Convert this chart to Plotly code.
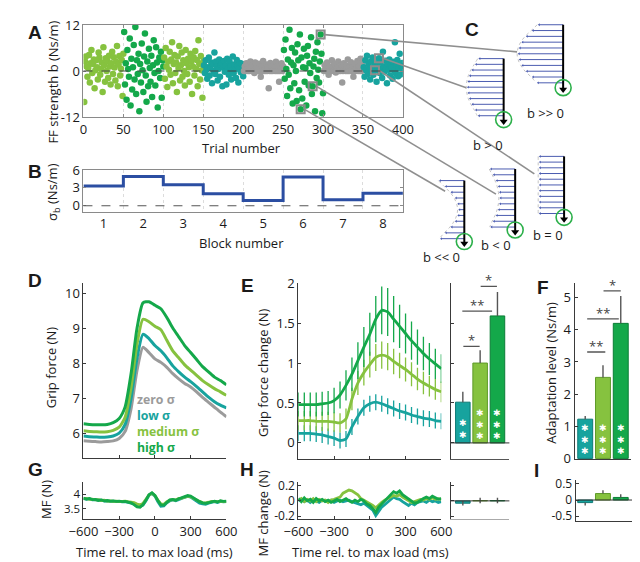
import plotly.graph_objects as go

# ---------------- data ----------------
b_block1 = [-8.1, 2.5, 3.8, 1.2, -1.5, 0.8, 4.2, -3.0, 2.0, 5.5, -0.5, 1.8, 3.0, -4.5, 0.2, 2.8, 1.0, -2.2, 4.8, 3.5,
            -1.0, 0.5, 2.2, -5.5, 6.2, 1.5, -2.8, 3.3, 0.0, 2.6, -1.8, 4.0, 1.2, -3.5, 2.0, 5.0, -0.8, 3.6, 0.9, -2.5,
            2.4, 6.5, -4.0, 1.7, 3.9, -1.2, 0.6, 2.9, -6.5, 4.5]
b_block2 = [10.2, -3.5, 2.0, -7.5, 5.5, 0.5, -1.5, 8.5, -9.0, 3.2, -4.8, 1.0, 6.8, -2.2, 11.5, -6.0, 2.8, -0.8, 4.5, -10.5,
            1.8, -3.0, 7.2, 0.2, -5.5, 3.8, 9.8, -1.2, -8.0, 2.5, -4.0, 5.8, 0.8, -2.8, 4.0, -6.8, 1.5, 8.0, -0.5, -3.8,
            6.2, 2.2, -9.5, 0.0, 3.5, -1.8, 5.0, -7.0, 2.8, 1.2]
b_block3 = [3.5, -2.0, 6.0, 1.2, -4.2, 2.5, 0.3, 5.0, -1.0, 3.0, 7.5, -3.2, 1.8, 4.2, -0.5, 2.2, -5.5, 3.8, 0.8, 6.5,
            -2.5, 1.5, 4.8, -1.5, 2.8, 0.0, -3.8, 5.5, 2.0, -0.8, 3.2, 1.0, -2.8, 4.5, 2.5, -6.0, 1.2, 3.6, -1.2, 5.2,
            0.5, 2.9, -4.0, 8.0, 1.8, -2.2, 3.9, 0.2, -7.0, 2.4]
b_block4 = [1.5, -0.5, 2.8, 0.3, -2.0, 1.0, 3.5, -1.2, 0.8, 2.2, -3.2, 1.8, 0.0, 4.8, -0.8, 2.5, 1.2, -2.5, 0.5, 3.0,
            -1.5, 1.6, 2.0, -4.0, 0.9, 2.6, -0.2, 1.4, -3.5, 3.2, 0.6, -1.0, 2.4, 1.1, -2.2, 0.2, 3.8, -0.6, 1.7, 0.4,
            -1.8, 2.9, 1.3, -3.0, 0.7, 2.1, -0.3, 1.9, 0.1, -1.4]
b_block5 = [0, 1.2, 0, 2.0, 0.5, 0, 1.8, 0, 2.5, 0.8, 0, 1.5, 0, -0.5, 2.2, 0, 1.0, 0, 0.6, 1.9,
            0, -1.5, 0, 1.3, 2.6, 0, 0.4, 0, 1.7, 0, 0.9, -4.5, 0, 2.1, 0, 1.1, 0, 1.6, 0.3, 0,
            2.4, 0, 1.4, 0, -2.8, 0, 0.7, 2.0, 0, 1.2]
b_block6 = [5.5, -2.0, 8.2, 0.5, -6.5, 3.0, -1.0, 10.8, -4.5, 2.2, 6.0, -8.5, 1.5, -3.2, 4.8, 0.0, -7.8, 7.0, 2.8, -5.0,
            9.5, -10.0, 3.5, -7.2, 1.0, 5.8, -2.8, 0.8, -9.0, 4.0, 6.5, -3.8, 2.0, -0.5, 8.8, -6.0, -4.0, 1.2, 3.2, -10.5,
            5.0, -1.8, 7.5, 0.3, -3.0, 2.5, 9.5, 4.5, -11.0, -5.8]
b_block7 = [0, 1.5, 0, 0.8, 2.2, 0, -1.0, 0, 1.2, 0, 2.8, 0.5, 0, 1.8, 0, -0.4, 0, 1.0, 2.5, 0,
            0.3, 0, 1.6, -3.0, 0, 2.0, 0.7, 0, 1.4, 0, 3.0, 0, 0.9, 0, 2.3, 0, 1.1, -1.5, 0, 1.9,
            0, 0.6, 2.6, 0, 1.3, 0, 3.2, 0, 2.1, 0.4]
b_block8 = [1.0, -1.5, 2.8, 0.2, 4.0, -0.8, 1.8, 0.5, -2.2, 2.5, 0.0, 3.5, -1.0, 1.2, 0.2, 2.0, -2.8, 1.5, 0.8, 3.3,
            -0.5, 2.2, 0.4, -1.8, 5.0, 1.1, -0.2, 2.7, 0.6, -3.2, 1.9, 0.3, 3.0, -1.2, 1.4, 0.9, -2.0, 2.4, 0.1, 7.5,
            -0.6, 1.6, 2.9, -1.4, 0.7, 4.5, -0.9, 1.3, 2.1, 0.5]
block_condition = ['medium', 'high', 'medium', 'low', 'zero', 'high', 'zero', 'low']
block_sigma = [3.3, 4.9, 3.5, 2.0, 0.9, 4.8, 1.0, 2.1]
block_labels = ['1', '2', '3', '4', '5', '6', '7', '8']
trial_ticks = [0, 50, 100, 150, 200, 250, 300, 350, 400]

highlight_trials = [297, 370, 365, 287, 272]
glyph_labels = ['b >> 0', 'b > 0', 'b = 0', 'b < 0', 'b << 0']
glyph_strength = [21, 12, 0, -10, -20]
bell = [0, 0.3, 0.6, 0.82, 0.95, 1.0, 0.95, 0.82, 0.6, 0.3, 0.05]

t_grip = [-600, -550, -500, -450, -400, -350, -300, -250, -200, -150, -100, -50, 0,
          50, 100, 150, 200, 250, 300, 350, 400, 450, 500, 550, 600]
grip_zero = [5.78, 5.77, 5.76, 5.75, 5.76, 5.78, 5.85, 6.05, 6.7, 7.8, 8.45, 8.3, 8.12,
             8.02, 7.88, 7.7, 7.55, 7.42, 7.32, 7.18, 7.02, 6.88, 6.74, 6.6, 6.47]
grip_low = [5.92, 5.9, 5.89, 5.88, 5.89, 5.92, 6.0, 6.25, 7.0, 8.15, 8.82, 8.7, 8.5,
            8.35, 8.15, 7.92, 7.75, 7.6, 7.47, 7.33, 7.18, 7.03, 6.9, 6.8, 6.72]
grip_med = [6.07, 6.05, 6.04, 6.03, 6.04, 6.08, 6.17, 6.45, 7.3, 8.55, 9.25, 9.18, 9.05,
            8.95, 8.65, 8.35, 8.15, 7.95, 7.8, 7.65, 7.5, 7.38, 7.27, 7.18, 7.08]
grip_high = [6.27, 6.25, 6.24, 6.24, 6.25, 6.3, 6.42, 6.75, 7.7, 9.0, 9.72, 9.75, 9.65,
             9.55, 9.3, 9.0, 8.75, 8.5, 8.3, 8.1, 7.9, 7.75, 7.6, 7.5, 7.38]

gfc_high = [0.48, 0.48, 0.48, 0.48, 0.49, 0.5, 0.53, 0.6, 0.72, 0.86, 1.03, 1.2, 1.36,
            1.55, 1.66, 1.64, 1.55, 1.46, 1.37, 1.28, 1.2, 1.12, 1.05, 0.99, 0.93]
gfc_high_err = [0.15, 0.15, 0.15, 0.15, 0.15, 0.15, 0.16, 0.17, 0.19, 0.21, 0.23, 0.25, 0.27,
                0.29, 0.30, 0.30, 0.29, 0.27, 0.25, 0.24, 0.22, 0.21, 0.2, 0.19, 0.18]
gfc_med = [0.28, 0.28, 0.28, 0.27, 0.27, 0.27, 0.26, 0.25, 0.3, 0.55, 0.75, 0.88, 0.98,
           1.07, 1.1, 1.08, 1.02, 0.97, 0.92, 0.86, 0.8, 0.75, 0.71, 0.67, 0.64]
gfc_med_err = [0.12, 0.12, 0.12, 0.12, 0.12, 0.12, 0.12, 0.12, 0.13, 0.14, 0.15, 0.16, 0.16,
               0.17, 0.17, 0.17, 0.16, 0.16, 0.15, 0.15, 0.14, 0.14, 0.13, 0.13, 0.13]
gfc_low = [0.12, 0.12, 0.12, 0.11, 0.1, 0.08, 0.06, 0.03, 0.05, 0.2, 0.33, 0.44, 0.49,
           0.51, 0.49, 0.46, 0.43, 0.4, 0.38, 0.35, 0.33, 0.31, 0.3, 0.28, 0.27]
gfc_low_err = [0.1, 0.1, 0.1, 0.1, 0.1, 0.1, 0.1, 0.1, 0.1, 0.1, 0.1, 0.1, 0.1,
               0.1, 0.1, 0.1, 0.1, 0.1, 0.1, 0.1, 0.1, 0.1, 0.1, 0.1, 0.1]

bar_conditions = [1, 2, 3]
gfc_bar = [0.51, 1.00, 1.59]
gfc_bar_err = [0.13, 0.16, 0.30]
gfc_bar_stars = [2, 3, 3]
adapt = [1.22, 2.52, 4.20]
adapt_err = [0.10, 0.38, 0.85]
adapt_stars = [3, 3, 3]

t_mf = [-600, -575, -550, -525, -500, -475, -450, -425, -400, -375, -350, -325, -300, -275, -250, -225, -200,
        -175, -150, -125, -100, -75, -50, -25, 0, 25, 50, 75, 100, 125, 150, 175, 200, 225, 250, 275, 300,
        325, 350, 375, 400, 425, 450, 475, 500, 525, 550, 575, 600]
mf_high = [3.86, 3.83, 3.85, 3.81, 3.82, 3.79, 3.80, 3.77, 3.78, 3.76, 3.77, 3.75, 3.76, 3.74, 3.75, 3.73, 3.70,
           3.64, 3.56, 3.55, 3.64, 3.80, 3.98, 4.05, 3.96, 3.78, 3.63, 3.62, 3.72, 3.80, 3.82, 3.79, 3.84, 3.87,
           3.92, 3.95, 3.93, 3.86, 3.80, 3.74, 3.70, 3.68, 3.71, 3.74, 3.76, 3.73, 3.77, 3.75, 3.76]
mf_med = [3.84, 3.85, 3.82, 3.83, 3.80, 3.81, 3.78, 3.79, 3.76, 3.77, 3.75, 3.76, 3.74, 3.75, 3.76, 3.74, 3.73,
          3.71, 3.66, 3.63, 3.68, 3.82, 3.97, 4.03, 3.95, 3.79, 3.66, 3.65, 3.74, 3.79, 3.81, 3.80, 3.85, 3.86,
          3.90, 3.93, 3.91, 3.85, 3.79, 3.75, 3.71, 3.70, 3.72, 3.75, 3.75, 3.74, 3.76, 3.74, 3.75]
mf_low = [3.85, 3.82, 3.84, 3.80, 3.81, 3.78, 3.79, 3.76, 3.77, 3.75, 3.76, 3.74, 3.75, 3.73, 3.74, 3.72, 3.69,
          3.65, 3.58, 3.57, 3.62, 3.77, 3.96, 4.02, 3.93, 3.74, 3.58, 3.59, 3.70, 3.77, 3.80, 3.77, 3.82, 3.85,
          3.89, 3.92, 3.90, 3.82, 3.75, 3.69, 3.66, 3.65, 3.69, 3.72, 3.74, 3.71, 3.75, 3.73, 3.74]

dmf_high = [0.03, -0.01, 0.04, 0.00, 0.02, -0.02, 0.03, 0.00, 0.02, -0.01, 0.01, -0.02, 0.00, 0.02, -0.01, 0.01,
            0.03, 0.00, -0.02, 0.01, -0.01, 0.02, 0.00, -0.04, -0.06, -0.10, -0.15, -0.08, -0.04, 0.00, 0.04,
            0.08, 0.12, 0.10, 0.13, 0.08, 0.05, 0.02, -0.01, -0.03, -0.02, 0.01, 0.03, 0.05, 0.03, 0.06, 0.04,
            0.02, 0.03]
dmf_med = [0.01, 0.03, -0.01, 0.02, 0.00, 0.03, -0.01, 0.02, 0.00, 0.01, -0.02, 0.01, 0.02, 0.03, 0.05, 0.10,
           0.12, 0.14, 0.13, 0.11, 0.08, 0.03, 0.01, -0.02, -0.03, -0.06, -0.09, -0.05, -0.02, 0.01, 0.03,
           0.05, 0.07, 0.06, 0.08, 0.05, 0.03, 0.00, -0.02, -0.01, 0.00, 0.02, 0.01, 0.03, 0.02, 0.04, 0.02,
           0.03, 0.02]
dmf_low = [0.00, 0.02, -0.01, 0.01, -0.02, 0.01, 0.00, -0.02, 0.01, 0.00, -0.01, 0.01, -0.02, 0.00, 0.01, -0.01,
           0.00, 0.01, -0.01, -0.02, -0.04, -0.05, -0.03, -0.06, -0.08, -0.12, -0.19, -0.13, -0.08, -0.05,
           -0.02, 0.02, 0.05, 0.03, 0.02, -0.01, -0.04, -0.06, -0.03, -0.05, -0.02, -0.01, 0.00, -0.02, 0.01,
           -0.01, 0.00, -0.02, -0.01]
dmf_bar = [-0.03, 0.005, 0.005]
dmf_bar_err = [0.03, 0.035, 0.035]
mfadapt = [-0.08, 0.20, 0.08]
mfadapt_err = [0.09, 0.10, 0.10]

time_ticks = [-600, -300, 0, 300, 600]
time_ticktext = ['\u2212600', '\u2212300', '0', '300', '600']
legend_labels = ['zero \u03c3', 'low \u03c3', 'medium \u03c3', 'high \u03c3']

# ---------------- style ----------------
W, H = 640, 562
FONT = 'Open Sans'
COL = {'zero': '#9b9b9b', 'low': '#17a39e', 'medium': '#86c23f', 'high': '#14a84a'}
EDGE = {'low': '#0d7a76', 'medium': '#5e9a28', 'high': '#0b7d36'}
BLUE = '#2b4ea2'
CONDS = ['low', 'medium', 'high']


def dx(x0, x1):
    return [x0 / W, x1 / W]


def dy(y0, y1):
    return [1 - y1 / H, 1 - y0 / H]


def axis(domain, rng, fs=13, **kw):
    d = dict(domain=domain, range=rng, showline=True, linecolor='#3a3a3a', linewidth=1, ticks='inside',
             ticklen=3, tickcolor='#3a3a3a', showgrid=False, zeroline=False, fixedrange=True,
             tickfont=dict(size=fs, color='#1a1a1a', family=FONT))
    d.update(kw)
    return d


fig = go.Figure()
layout = dict(width=W, height=H, margin=dict(l=0, r=0, t=0, b=0), paper_bgcolor='white',
              plot_bgcolor='rgba(0,0,0,0)', showlegend=False, font=dict(family=FONT, size=13, color='#1a1a1a'))

GRAYBOX = '#8a8a8a'
GRID = '#dcdcdc'
layout['xaxis'] = axis(dx(63, 396), [0, 400], anchor='y', tickvals=trial_ticks, mirror='ticks', linecolor=GRAYBOX,
                       tickcolor=GRAYBOX, showgrid=True, gridcolor=GRID, griddash='dot', gridwidth=1)
layout['yaxis'] = axis(dy(8.3, 103.3), [-12, 12], anchor='x', tickvals=[-12, 0, 12], ticktext=['-12', '0', '12'],
                       mirror='ticks', linecolor=GRAYBOX, tickcolor=GRAYBOX)
layout['xaxis2'] = axis(dx(63, 396), [0.5, 8.5], anchor='y2', tickvals=[1, 2, 3, 4, 5, 6, 7, 8],
                        ticktext=block_labels, mirror='ticks', linecolor=GRAYBOX, ticks='',
                        minor=dict(tick0=0.5, dtick=1, showgrid=True, gridcolor=GRID, griddash='dot'))
layout['yaxis2'] = axis(dy(158, 201), [-0.97, 6], anchor='x2', tickvals=[0, 3, 6], mirror='ticks',
                        linecolor=GRAYBOX, tickcolor=GRAYBOX)
layout['xaxis3'] = axis(dx(63, 212), [-600, 600], anchor='y3', tickvals=time_ticks, showticklabels=False)
layout['yaxis3'] = axis(dy(275, 456), [5.28, 10.28], anchor='x3', tickvals=[6, 7, 8, 9, 10])
layout['xaxis4'] = axis(dx(287, 436), [-600, 600], anchor='y4', tickvals=time_ticks, showticklabels=False)
layout['yaxis4'] = axis(dy(275, 457), [-0.206, 2], anchor='x4', tickvals=[0, 0.5, 1, 1.5, 2],
                        ticktext=['0', '0.5', '1', '1.5', '2'])
layout['xaxis5'] = axis(dx(446, 507), [0.31, 3.69], anchor='y5', ticks='', showticklabels=False, linecolor='#555')
layout['yaxis5'] = axis(dy(275, 457), [-0.206, 2], anchor='x5', tickvals=[0, 0.5, 1, 1.5, 2], showticklabels=False)
layout['xaxis6'] = axis(dx(575, 634), [0.405, 3.59], anchor='y6', ticks='', showticklabels=False)
layout['yaxis6'] = axis(dy(275, 457), [-0.03, 5.45], anchor='x6', tickvals=[0, 1, 2, 3, 4, 5])
layout['xaxis7'] = axis(dx(63, 212), [-600, 600], anchor='y7', tickvals=time_ticks, ticktext=time_ticktext)
layout['yaxis7'] = axis(dy(480, 519), [3.13, 4.43], fs=11.5, anchor='x7', tickvals=[3.5, 4], ticktext=['3.5', '4'])
layout['xaxis8'] = axis(dx(287, 436), [-600, 600], anchor='y8', tickvals=time_ticks, ticktext=time_ticktext)
layout['yaxis8'] = axis(dy(480, 519), [-0.24, 0.25], fs=12, anchor='x8', tickvals=[-0.2, 0, 0.2],
                        ticktext=['-0.2', '0', '0.2'])
layout['xaxis9'] = axis(dx(446, 507), [0.31, 3.69], anchor='y9', ticks='', showticklabels=False, linecolor='#aaaaaa')
layout['yaxis9'] = axis(dy(480, 519), [-0.24, 0.25], anchor='x9', tickvals=[-0.2, 0, 0.2], showticklabels=False)
layout['xaxis10'] = axis(dx(576, 636), [0.46, 3.70], anchor='y10', ticks='', showticklabels=False)
layout['yaxis10'] = axis(dy(478, 521), [-0.66, 0.63], fs=12, anchor='x10', tickvals=[-0.5, 0, 0.5],
                         ticktext=['-0.5', '0', '0.5'])
layout['xaxis11'] = dict(domain=[0, 1], range=[0, W], visible=False, anchor='y11', fixedrange=True)
layout['yaxis11'] = dict(domain=[0, 1], range=[H, 0], visible=False, anchor='x11', fixedrange=True)

# ---------------- A: scatter ----------------
blocks = [b_block1, b_block2, b_block3, b_block4, b_block5, b_block6, b_block7, b_block8]
all_b = []
for i, vals in enumerate(blocks):
    trials = list(range(i * 50 + 1, i * 50 + 1 + len(vals)))
    all_b += vals
    fig.add_trace(go.Scatter(x=trials, y=vals, mode='markers', xaxis='x', yaxis='y',
                             marker=dict(size=6.5, color=COL[block_condition[i]], line=dict(width=0))))
hl_b = [all_b[t - 1] for t in highlight_trials]
fig.add_trace(go.Scatter(x=highlight_trials, y=hl_b, mode='markers', xaxis='x', yaxis='y',
                         marker=dict(symbol='square-open', size=8, color='#8c8c8c', line=dict(width=2))))

# ---------------- B: sigma steps ----------------
bx = [k - 0.5 for k in range(1, len(block_sigma) + 1)] + [len(block_sigma) + 0.5]
by = block_sigma + [block_sigma[-1]]
fig.add_trace(go.Scatter(x=bx, y=by, mode='lines', line=dict(shape='hv', color=BLUE, width=3),
                         xaxis='x2', yaxis='y2'))

# ---------------- D ----------------
for name, vals in [('zero', grip_zero), ('low', grip_low), ('medium', grip_med), ('high', grip_high)]:
    fig.add_trace(go.Scatter(x=t_grip, y=vals, mode='lines', xaxis='x3', yaxis='y3',
                             line=dict(color=COL[name], width=3, shape='spline', smoothing=0.6)))

# ---------------- E ----------------
for name, vals, err in [('low', gfc_low, gfc_low_err), ('medium', gfc_med, gfc_med_err),
                        ('high', gfc_high, gfc_high_err)]:
    fig.add_trace(go.Scatter(x=t_grip, y=vals, mode='lines', xaxis='x4', yaxis='y4',
                             line=dict(color=COL[name], width=2.8, shape='spline', smoothing=0.6),
                             error_y=dict(type='data', array=err, width=0, thickness=1.3, color=COL[name])))


def bars(vals, err, xa, ya, one_sided=True):
    for k, c in enumerate(CONDS):
        v = vals[k]
        if one_sided:
            eu = [err[k] if v >= 0 else 0]
            ed = [err[k] if v < 0 else 0]
        else:
            eu = [err[k]]
            ed = [err[k]]
        fig.add_trace(go.Bar(x=[bar_conditions[k]], y=[v], width=0.84, xaxis=xa, yaxis=ya,
                             marker=dict(color=COL[c], line=dict(color=EDGE[c], width=1)),
                             error_y=dict(type='data', symmetric=False, array=eu, arrayminus=ed, width=0,
                                          thickness=1.4, color='#555555')))


bars(gfc_bar, gfc_bar_err, 'x5', 'y5')
bars(adapt, adapt_err, 'x6', 'y6')
bars(dmf_bar, dmf_bar_err, 'x9', 'y9', one_sided=False)
bars(mfadapt, mfadapt_err, 'x10', 'y10')

# ---------------- G, H ----------------
for name, vals in [('low', mf_low), ('medium', mf_med), ('high', mf_high)]:
    fig.add_trace(go.Scatter(x=t_mf, y=vals, mode='lines', xaxis='x7', yaxis='y7',
                             line=dict(color=COL[name], width=2.8)))
for name, vals in [('low', dmf_low), ('medium', dmf_med), ('high', dmf_high)]:
    fig.add_trace(go.Scatter(x=t_mf, y=vals, mode='lines', xaxis='x8', yaxis='y8',
                             line=dict(color=COL[name], width=2.8)))

# ---------------- C: force-field glyphs (overlay, pixel units) ----------------
glyph_geom = [
    dict(x=563, top=8, bot=68, tip=78, lx=566, ly=88, cx=515, cy=36),
    dict(x=501, top=43, bot=102, tip=111, lx=502, ly=121, cx=462, cy=73),
    dict(x=564, top=144, bot=203, tip=212, lx=565, ly=225, cx=533, cy=162),
    dict(x=513, top=157, bot=217, tip=225, lx=511, ly=236, cx=493, cy=183),
    dict(x=460, top=169, bot=229, tip=237, lx=458, ly=248, cx=440, cy=180),
]
L0 = 25
ax_x0, ax_x1, ax_y0, ax_y1 = 63, 396, 8.3, 103.3
conn_x, conn_y = [], []
annotations = []
for g, lab, s, t, bv in zip(glyph_geom, glyph_labels, glyph_strength, highlight_trials, hl_b):
    xs, ys, ex, ey = [], [], [], []
    n = len(bell)
    for i, p in enumerate(bell):
        yy = g['top'] + i * (g['bot'] - g['top']) / (n - 1)
        xl = g['x'] - L0 - s * p
        xs += [xl, g['x'], None]
        ys += [yy, yy, None]
        ex.append(xl)
        ey.append(yy)
    fig.add_trace(go.Scatter(x=[v - 2 for v in ex], y=ey, mode='lines', xaxis='x11', yaxis='y11',
                             line=dict(color='#c4c4c4', width=1, dash='dot', shape='spline')))
    fig.add_trace(go.Scatter(x=xs, y=ys, mode='lines', xaxis='x11', yaxis='y11',
                             line=dict(color='#4b5cb0', width=1)))
    fig.add_trace(go.Scatter(x=ex, y=ey, mode='markers', xaxis='x11', yaxis='y11',
                             marker=dict(color='#4b5cb0', size=2.5, symbol='triangle-left')))
    fig.add_trace(go.Scatter(x=[g['x'], g['x']], y=[g['top'], g['tip'] - 4], mode='lines', xaxis='x11',
                             yaxis='y11', line=dict(color='black', width=2)))
    fig.add_trace(go.Scatter(x=[g['x']], y=[g['tip'] - 3], mode='markers', xaxis='x11', yaxis='y11',
                             marker=dict(symbol='triangle-down', size=7, color='black')))
    fig.add_trace(go.Scatter(x=[g['x']], y=[g['tip'] - 5], mode='markers', xaxis='x11', yaxis='y11',
                             marker=dict(symbol='circle-open', size=16, color='#2cb04a', line=dict(width=1.6))))
    annotations.append(dict(text=lab, x=g['lx'] / W, y=1 - g['ly'] / H, xref='paper', yref='paper',
                            showarrow=False, font=dict(size=13, family=FONT, color='#1a1a1a')))
    # connector from highlighted trial in A to the glyph
    px_ = ax_x0 + t / 400 * (ax_x1 - ax_x0) + 4
    py_ = ax_y0 + (12 - bv) / 24 * (ax_y1 - ax_y0)
    conn_x += [px_, g['cx'], None]
    conn_y += [py_, g['cy'], None]
fig.add_trace(go.Scatter(x=conn_x, y=conn_y, mode='lines', xaxis='x11', yaxis='y11',
                         line=dict(color='#8f8f8f', width=1.6)))

# ---------------- shapes ----------------
shapes = []
shapes.append(dict(type='line', xref='x domain', yref='y', x0=0, x1=1, y0=0, y1=0,
                   line=dict(color='#444', width=1.2, dash='dash'), layer='above'))
shapes.append(dict(type='line', xref='x2 domain', yref='y2', x0=0, x1=1, y0=0, y1=0,
                   line=dict(color='#555', width=1.2, dash='dash'), layer='above'))
for xa, ya in [('x5', 'y5'), ('x9', 'y9'), ('x10', 'y10')]:
    shapes.append(dict(type='line', xref=xa + ' domain', yref=ya, x0=0, x1=1, y0=0, y1=0,
                       line=dict(color='#333', width=1), layer='above'))

sig_E = [(1.03, 1.97, 1.21, '*'), (0.97, 2.69, 1.65, '**'), (2.03, 2.97, 1.96, '*')]
sig_F = [(1.11, 2.13, 3.31, '**'), (1.11, 2.89, 4.34, '**'), (2.03, 3.0, 5.21, '*')]
for sig, xa, ya in [(sig_E, 'x5', 'y5'), (sig_F, 'x6', 'y6')]:
    for x0, x1, yv, st in sig:
        shapes.append(dict(type='line', xref=xa, yref=ya, x0=x0, x1=x1, y0=yv, y1=yv,
                           line=dict(color='#555', width=1.3)))
        annotations.append(dict(text=st, x=(x0 + x1) / 2, y=yv, xref=xa, yref=ya, showarrow=False,
                                yanchor='bottom', yshift=-5, font=dict(size=13, color='#444', family=FONT)))

# white significance stars stacked inside the bars (one text per bar)
for counts, xa, ya, ycen in [(gfc_bar_stars, 'x5', 'y5', [426, 420.5, 420.5]),
                             (adapt_stars, 'x6', 'y6', [436.5, 436.5, 436.5])]:
    for k, nstar in enumerate(counts):
        annotations.append(dict(text='<br>'.join(['\u2731'] * nstar), x=bar_conditions[k], y=1 - ycen[k] / H,
                                xref=xa, yref='paper', showarrow=False, yanchor='middle',
                                font=dict(size=9, color='white', family='DejaVu Sans')))


def ann(text, x, y, size=13, color='#1a1a1a', bold=False, angle=0, xanchor='center', family=FONT, **kw):
    if bold:
        text = '<b>' + text + '</b>'
    d = dict(text=text, x=x / W, y=1 - y / H, xref='paper', yref='paper', showarrow=False,
             textangle=angle, xanchor=xanchor, yanchor='middle',
             font=dict(size=size, color=color, family=family))
    d.update(kw)
    annotations.append(d)


# axis titles
ann('FF strength b (Ns/m)', 31, 67, angle=-90)
ann('Trial number', 228, 135)
ann('\u03c3<sub>b</sub> (Ns/m)', 32, 181, angle=-90)
ann('Block number', 228, 233)
ann('Grip force (N)', 30, 362, angle=-90)
ann('Grip force change (N)', 250, 367, angle=-90)
ann('Adaptation level (Ns/m)', 551, 368, angle=-90)
ann('MF (N)', 24, 499, angle=-90)
ann('MF change (N)', 250, 512, angle=-90)
ann('Time rel. to max load (ms)', 137, 553)
ann('Time rel. to max load (ms)', 362, 553)

# panel letters
LF = 'Liberation Sans'
for letter, x, y in [('A', 13, 16), ('B', 13, 160), ('C', 468, 13), ('D', 13, 272), ('E', 234, 277),
                     ('F', 542, 279), ('G', 13, 467), ('H', 233, 467), ('I', 535, 469)]:
    ann(letter, x, y, size=19, bold=True, family=LF)

# legend in D (one multi-line text)
leg_cols = [COL['zero'], COL['low'], COL['medium'], COL['high']]
leg_text = '<br>'.join('<b><span style="color:%s">%s</span></b>' % (c, l) for c, l in zip(leg_cols, legend_labels))
ann(leg_text, 117, 419.5, size=12.3, xanchor='left', align='left')

layout['shapes'] = shapes
layout['annotations'] = annotations
fig.update_layout(**layout)
fig.write_html('out.html')
